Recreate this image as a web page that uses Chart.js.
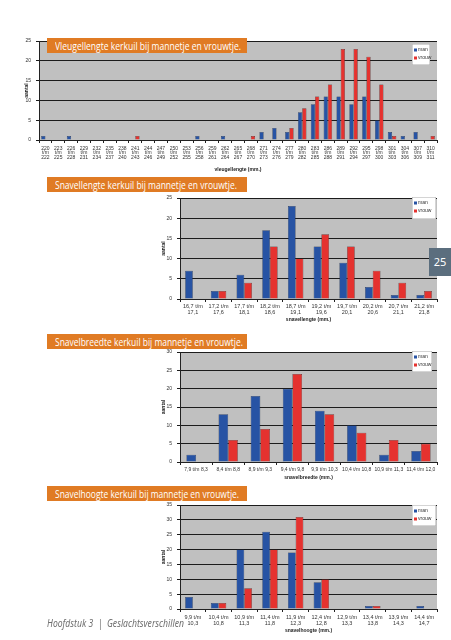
<!DOCTYPE html>
<html><head><meta charset="utf-8">
<script src="https://cdn.jsdelivr.net/npm/chart.js@4.4.0/dist/chart.umd.min.js"></script>
<style>
body{margin:0;width:451px;height:640px;background:#fff;position:relative;overflow:hidden;font-family:"Liberation Sans",Arial,sans-serif}
canvas{position:absolute}
.tbox{position:absolute;left:47px;width:200px;height:15px;background:#e07b24;z-index:5;overflow:hidden}
.tbox span,.fit{position:absolute;white-space:nowrap;transform-origin:0 50%}
.tbox span{left:8px;top:0;color:#fff;font-family:"Open Sans";font-size:11px;line-height:15px}
#page{position:absolute;left:429px;top:248px;width:22px;height:28px;background:#5b6e7e;color:#fff;font-family:"Noto Sans";font-size:11px;line-height:28px;text-align:center;z-index:5}
#foot{left:47px;top:615px;color:#6f6f6f;font-family:"Noto Sans";font-style:italic;font-size:11px;line-height:16px;z-index:5}
</style></head><body>
<canvas id="c1"></canvas><canvas id="c2"></canvas><canvas id="c3"></canvas><canvas id="c4"></canvas>
<div class="tbox" style="top:38px"><span data-w="186">Vleugellengte kerkuil bij mannetje en vrouwtje.</span></div>
<div class="tbox" style="top:177px"><span data-w="182">Snavellengte kerkuil bij mannetje en vrouwtje.</span></div>
<div class="tbox" style="top:334px"><span data-w="188">Snavelbreedte kerkuil bij mannetje en vrouwtje.</span></div>
<div class="tbox" style="top:486px"><span data-w="184">Snavelhoogte kerkuil bij mannetje en vrouwtje.</span></div>
<div id="page">25</div>
<div id="foot" class="fit" data-w="137">Hoofdstuk 3&nbsp; |&nbsp; Geslachtsverschillen</div>
<script>
// ---- data ----
const seriesNames = ["man", "vrouw"];

const wingFrom = ["220","223","226","229","232","235","238","241","244","247","250","253","256","259","262","265","268","271","274","277","280","283","286","289","292","295","298","301","304","307","310"];
const wingTo   = ["222","225","228","231","234","237","240","243","246","249","252","255","258","261","264","267","270","273","276","279","282","285","288","291","294","297","300","303","306","309","311"];
const wingMan   = [1,0,1,0,0,0,0,0,0,0,0,0,1,0,1,0,0,2,3,2,7,9,11,11,9,11,5,2,1,2,0];
const wingVrouw = [0,0,0,0,0,0,0,1,0,0,0,0,0,0,0,0,1,0,0,3,8,11,14,23,23,21,14,1,0,0,1];

const lenFrom = ["16,7 t/m","17,2 t/m","17,7 t/m","18,2 t/m","18,7 t/m","19,2 t/m","19,7 t/m","20,2 t/m","20,7 t/m","21,2 t/m"];
const lenTo   = ["17,1","17,6","18,1","18,6","19,1","19,6","20,1","20,6","21,1","21,8"];
const lenMan   = [7,2,6,17,23,13,9,3,1,1];
const lenVrouw = [0,2,4,13,10,16,13,7,4,2];

const brLabels = ["7,9 t/m 8,3","8,4 t/m 8,8","8,9 t/m 9,3","9,4 t/m 9,8","9,9 t/m 10,3","10,4 t/m 10,8","10,9 t/m 11,3","11,4 t/m 12,0"];
const brMan   = [2,13,18,20,14,10,2,3];
const brVrouw = [0,6,9,24,13,8,6,5];

const hFrom = ["9,9 t/m","10,4 t/m","10,9 t/m","11,4 t/m","11,9 t/m","12,4 t/m","12,9 t/m","13,4 t/m","13,9 t/m","14,4 t/m"];
const hTo   = ["10,3","10,8","11,3","11,8","12,3","12,8","13,3","13,8","14,3","14,7"];
const hMan   = [4,2,20,26,19,9,0,1,0,1];
const hVrouw = [0,2,7,20,31,10,0,1,0,0];

// ---- rendering ----
const BLUE = '#2753a4', RED = '#e5322f';
const FONT = '"Liberation Sans", Arial, sans-serif';

const bgPlugin = {id:'bgp', beforeDraw(c){const a=c.chartArea,x=c.ctx;x.save();x.fillStyle='#c0c0c0';x.fillRect(a.left,a.top,a.right-a.left,a.bottom-a.top);x.restore();}};
const legPlugin = {id:'legp', afterDraw(c,args,o){
  const a=c.chartArea,x=c.ctx,L=a.right+o.dx,T=a.top+o.dy;
  x.save();x.fillStyle='#fff';x.fillRect(L,T,o.w,o.h);
  x.strokeStyle='#aaa';x.lineWidth=0.5;x.strokeRect(L+0.25,T+0.25,o.w-0.5,o.h-0.5);
  x.font='5px '+FONT;x.textBaseline='middle';
  c.data.datasets.forEach((d,i)=>{const cy=T+6+i*8;x.fillStyle=d.backgroundColor;x.fillRect(L+2,cy-1.5,3,3);x.fillStyle='#333';x.fillText(d.label,L+6,cy);});
  x.restore();}};

function makeChart(id, pos, labels, man, vrouw, o){
  const cv=document.getElementById(id);
  cv.width=pos.w;cv.height=pos.h;cv.style.left=pos.l+'px';cv.style.top=pos.t+'px';cv.style.width=pos.w+'px';cv.style.height=pos.h+'px';
  return new Chart(cv,{type:'bar',
    data:{labels:labels,datasets:[
      {label:seriesNames[0],data:man,backgroundColor:BLUE,borderColor:'#1d2a44',borderWidth:0.5},
      {label:seriesNames[1],data:vrouw,backgroundColor:RED,borderColor:'#3a1a1a',borderWidth:0.5}]},
    options:{responsive:false,animation:false,devicePixelRatio:1,
      layout:{padding:{top:6,right:6,left:0,bottom:0}},
      categoryPercentage:o.cat,barPercentage:1,
      plugins:{legend:{display:false},tooltip:{enabled:false},legp:o.leg},
      scales:{
        x:{grid:{display:true,drawOnChartArea:false,drawTicks:true,tickLength:3,color:'#222',offset:true},
           border:{display:true,color:'#222',width:1},
           ticks:{font:{size:o.fs,family:FONT,lineHeight:o.lh},color:'#333',padding:o.xpad,maxRotation:0,minRotation:0,autoSkip:false},
           title:{display:true,text:o.xt,font:{size:5,family:FONT,weight:'bold',lineHeight:1.2},color:'#222',padding:0},
           afterFit(s){s.height=o.xh;}},
        y:{min:0,max:o.ymax,
           ticks:{stepSize:5,font:{size:5,family:FONT},color:'#333',padding:5},
           grid:{color:'#1c1c1c',lineWidth:1,tickLength:3,drawTicks:true},
           border:{display:true,color:'#222',width:1},
           title:{display:true,text:'aantal',font:{size:5,family:FONT,weight:'bold',lineHeight:1.2},color:'#222',padding:{top:o.ytp,bottom:0}},
           afterFit(s){s.width=o.yw;}}
      }},
    plugins:[bgPlugin,legPlugin]});
}

const wingLabels = wingFrom.map((f,i)=>[f,'t/m',wingTo[i]]);
const lenLabels  = lenFrom.map((f,i)=>[f,lenTo[i]]);
const hLabels    = hFrom.map((f,i)=>[f,hTo[i]]);

makeChart('c1',{l:18,t:33,w:425,h:140},wingLabels,wingMan,wingVrouw,
  {cat:0.66,fs:5,lh:0.9,xpad:3,xh:33,yw:21,ytp:6,ymax:25,xt:'vleugellengte (mm.)',leg:{dx:-25,dy:3,w:18,h:21}});
makeChart('c2',{l:156,t:190,w:287,h:133},lenLabels,lenMan,lenVrouw,
  {cat:0.6,fs:5.5,lh:1.1,xpad:1,xh:24,yw:24,ytp:5,ymax:25,xt:'snavellengte (mm.)',leg:{dx:-25,dy:-1,w:24,h:22}});
makeChart('c3',{l:156,t:344,w:287,h:137},brLabels,brMan,brVrouw,
  {cat:0.6,fs:5,lh:1.0,xpad:2,xh:19,yw:24,ytp:5,ymax:30,xt:'snavelbreedte (mm.)',leg:{dx:-25,dy:-1,w:20,h:21}});
makeChart('c4',{l:156,t:497,w:287,h:137},hLabels,hMan,hVrouw,
  {cat:0.6,fs:5.5,lh:1.1,xpad:2,xh:25,yw:24,ytp:5,ymax:35,xt:'snavelhoogte (mm.)',leg:{dx:-25,dy:0,w:24,h:21}});

// fit text widths
document.querySelectorAll('[data-w]').forEach(el=>{
  const w=el.getBoundingClientRect().width;const t=+el.dataset.w;
  el.style.transform='scaleX('+(t/w)+')';
});
</script>
</body></html>
